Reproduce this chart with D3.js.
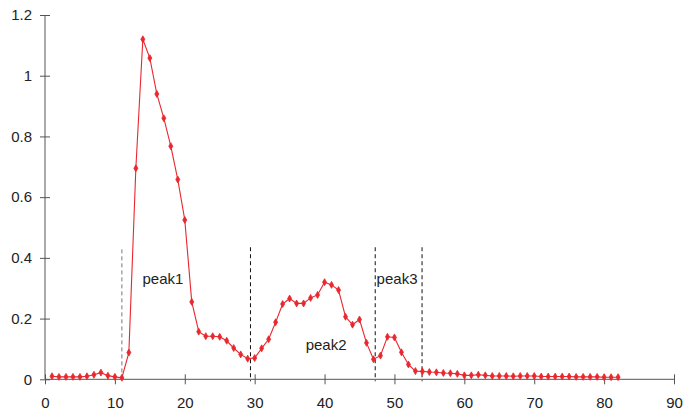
<!DOCTYPE html>
<html><head><meta charset="utf-8">
<script src="https://cdn.jsdelivr.net/npm/d3@7"></script>
<style>body{margin:0;background:#fff}svg{display:block}text{font-family:"Liberation Sans",Arial,sans-serif}</style>
</head><body><div id="chart"></div>
<script>
const xValues = d3.range(1, 83);
const yValues = [0.010,0.008,0.008,0.008,0.008,0.010,0.015,0.022,0.012,0.008,
0.005,0.088,0.695,1.120,1.058,0.940,0.860,0.768,0.658,0.525,
0.255,0.157,0.142,0.142,0.140,0.127,0.103,0.082,0.068,0.070,
0.102,0.132,0.188,0.248,0.266,0.250,0.250,0.268,0.278,0.320,
0.311,0.294,0.206,0.180,0.197,0.120,0.066,0.078,0.140,0.138,
0.089,0.049,0.027,0.026,0.024,0.023,0.021,0.020,0.018,0.013,
0.013,0.015,0.013,0.011,0.011,0.011,0.010,0.011,0.011,0.011,
0.009,0.009,0.009,0.009,0.009,0.008,0.008,0.008,0.008,0.007,0.007,0.007];
const xTicks = [0,10,20,30,40,50,60,70,80,90];
const yTicks = [0,0.2,0.4,0.6,0.8,1,1.2];
const dividerX = [11.0, 29.4, 47.25, 53.95];
const dividerTop = 0.435;
const peakLabels = ["peak1","peak2","peak3"];
const peakLabelX = [13.95, 37.3, 47.45];
const peakLabelY = [0.33, 0.115, 0.33];

const W = 686, H = 411;
const svg = d3.select("#chart").append("svg").attr("width", W).attr("height", H);
const x = d3.scaleLinear().domain([0, 90]).range([45, 674]);
const y = d3.scaleLinear().domain([0, 1.2]).range([379.3, 15]);
const axisColor = "#555";

// y axis
const ya = svg.append("g").attr("transform", "translate(45,0)")
  .call(d3.axisLeft(y).tickValues(yTicks).tickFormat(d => d).tickSize(5).tickPadding(8));
ya.select(".domain").attr("stroke", axisColor).attr("d", `M0,${y(1.2)}V${y(0)}`);
ya.selectAll(".tick line").attr("stroke", axisColor).attr("x1", 5).attr("x2", -5);
ya.selectAll(".tick text").attr("font-size", 15).attr("fill", "#222");

// x axis
const xa = svg.append("g").attr("transform", `translate(0,${y(0)})`)
  .call(d3.axisBottom(x).tickValues(xTicks).tickSize(5).tickPadding(13));
xa.select(".domain").attr("stroke", axisColor).attr("d", `M${x(0)},0H${x(90)}`);
xa.selectAll(".tick line").attr("stroke", axisColor).attr("y1", -5).attr("y2", 5);
xa.selectAll(".tick text").attr("font-size", 15).attr("fill", "#222");

// dividers
svg.append("g").selectAll("line").data(dividerX).join("line")
  .attr("x1", d => x(d)).attr("x2", d => x(d))
  .attr("y1", (d, i) => y(i === 0 ? dividerTop - 0.007 : dividerTop)).attr("y2", y(0) + 2)
  .attr("stroke", (d, i) => i === 0 ? "#777" : "#111")
  .attr("stroke-width", 1).attr("stroke-dasharray", "4,3");

// line
const data = xValues.map((d, i) => [d, yValues[i]]);
svg.append("path").datum(data)
  .attr("fill", "none").attr("stroke", "#e8282e").attr("stroke-width", 1.1)
  .attr("d", d3.line().x(d => x(d[0])).y(d => y(d[1])));

svg.append("g").selectAll("path").data(data).join("path")
  .attr("transform", d => `translate(${x(d[0])},${y(d[1])})`)
  .attr("d", d3.symbol().type(d3.symbolDiamond).size(14))
  .attr("fill", "#e8282e").attr("stroke", "#e8282e").attr("stroke-width", 0.8);

// labels
svg.append("g").selectAll("text").data(peakLabels).join("text")
  .attr("x", (d, i) => x(peakLabelX[i])).attr("y", (d, i) => y(peakLabelY[i]))
  .attr("dy", "0.35em").attr("font-size", 15).attr("fill", "#222").text(d => d);
</script></body></html>
